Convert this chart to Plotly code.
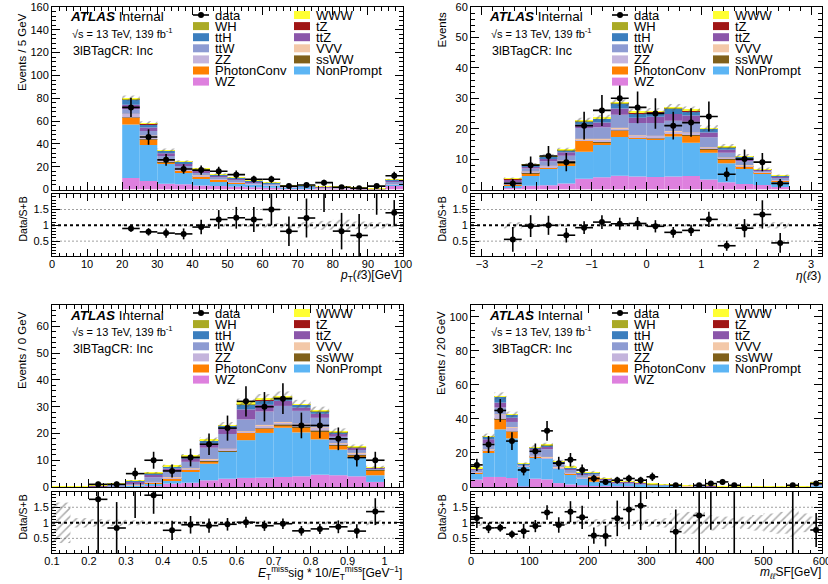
import numpy as np
import plotly.graph_objects as go

W, H = 828, 584
FONT = "Liberation Sans, Arial, Helvetica, sans-serif"

# ---------------- samples (stack order bottom -> top) ----------------
stack_order = ["WZ", "NonPrompt", "PhotonConv", "ssWW", "ZZ", "VVV",
               "ttW", "ttZ", "ttH", "tZ", "WH", "WWW"]
sample_colors = ["#de80de", "#5cb5f4", "#ff8000", "#80601a", "#c4b4dc", "#f3c8a8",
                 "#8d9bd2", "#8b56aa", "#3b7ebe", "#a01515", "#aaaa25", "#ffff33"]

# ---------------- panel 1 : pT(l3) ----------------
p1_edges = [20, 25, 30, 35, 40, 45, 50, 55, 60, 65, 70, 75, 80, 85, 90, 95, 100]
p1_data = [72, 46, 26, 18, 17, 16, 13, 9, 9, 3, 4, 6, 2, 1, 3, 12]
p1_WZ = [10, 7.5, 5, 4.5, 3.5, 3, 2.5, 2, 1.6, 1.2, 1.0, 0.9, 0.8, 0.5, 0.3, 3.5]
p1_NonPrompt = [47, 31.5, 17.5, 10.5, 6.5, 4.2, 2.5, 2, 1.8, 0.6, 0.5, 0.3, 0.4, 0.1, 0.05, 0.5]
p1_PhotonConv = [6, 5, 1.5, 1.5, 1.2, 1.5, 1.2, 0.6, 0.4, 0.2, 0.2, 0.1, 0.1, 0.05, 0.03, 0.4]
p1_ssWW = [0.2, 0.15, 0.15, 0.1, 0.08, 0.05, 0.05, 0.03, 0.02, 0.02, 0.01, 0.01, 0.01, 0, 0, 0.05]
p1_ZZ = [3, 3, 2, 1.5, 1.2, 1, 0.8, 0.6, 0.5, 0.4, 0.3, 0.3, 0.3, 0.2, 0.15, 0.8]
p1_VVV = [0.2, 0.15, 0.15, 0.1, 0.07, 0.05, 0.05, 0.03, 0.02, 0.02, 0.01, 0.01, 0.01, 0.01, 0, 0.05]
p1_ttW = [4, 4, 3, 2.5, 2, 1.5, 1.5, 1, 0.8, 0.6, 0.6, 0.4, 0.4, 0.3, 0.2, 1.3]
p1_ttZ = [4, 3, 2.5, 2, 1.8, 1.2, 1, 0.7, 0.5, 0.4, 0.4, 0.3, 0.3, 0.2, 0.15, 1.2]
p1_ttH = [4.5, 3, 2, 1.5, 1.3, 0.8, 0.7, 0.5, 0.3, 0.2, 0.2, 0.15, 0.1, 0.1, 0.05, 0.6]
p1_tZ = [0.3, 0.2, 0.2, 0.15, 0.1, 0.05, 0.05, 0.04, 0.02, 0.02, 0.01, 0.01, 0.01, 0, 0.01, 0.06]
p1_WH = [0.4, 0.25, 0.25, 0.15, 0.1, 0.07, 0.07, 0.05, 0.02, 0.02, 0.01, 0.01, 0.01, 0.01, 0, 0.07]
p1_WWW = [0.4, 0.25, 0.25, 0.2, 0.15, 0.08, 0.08, 0.05, 0.02, 0.02, 0.01, 0.01, 0.01, 0, 0.01, 0.07]
p1_unc = [0.03, 0.03, 0.04, 0.04, 0.05, 0.05, 0.05, 0.06, 0.07, 0.08, 0.1, 0.14, 0.18, 0.12, 0.1, 0.06]

# ---------------- panel 2 : eta(l3) ----------------
p2_edges = [-2.6, -2.275, -1.95, -1.625, -1.3, -0.975, -0.65, -0.325, 0,
            0.325, 0.65, 0.975, 1.3, 1.625, 1.95, 2.275, 2.6]
p2_data = [2, 8, 11, 9, 21, 26, 30, 27, 25, 21, 22, 24, 5, 10, 9, 2]
p2_WZ = [0.8, 1.2, 1.4, 2.0, 3.5, 4.0, 4.5, 4.3, 4.1, 4.3, 4.4, 3.3, 2.4, 1.8, 1.5, 0.8]
p2_NonPrompt = [0.5, 3.2, 5.5, 6.0, 8.9, 10.6, 12.8, 12.5, 12.4, 13.1, 11.0, 8.8, 6.2, 5.1, 3.8, 1.7]
p2_PhotonConv = [0.2, 1.0, 0.3, 0.5, 3.6, 0.9, 2.0, 0.3, 0.2, 1.0, 2.5, 1.2, 1.4, 0.6, 0.3, 0.6]
p2_ssWW = [0.02, 0.05, 0.05, 0.6, 0.1, 0.1, 0.1, 0.1, 0.1, 0.1, 0.1, 0.1, 0.05, 0.05, 0.02, 0.02]
p2_ZZ = [0.3, 0.4, 0.5, 0.4, 0.5, 1.0, 0.8, 0.5, 0.8, 0.6, 0.6, 0.4, 0.4, 0.4, 0.2, 0.2]
p2_VVV = [0.03, 0.03, 0.03, 0.03, 0.1, 0.1, 0.1, 0.1, 0.1, 0.1, 0.1, 0.1, 0.1, 0.1, 0.02, 0.02]
p2_ttW = [0.8, 1.0, 1.5, 1.6, 3.5, 3.8, 4.3, 4.1, 4.2, 3.4, 3.6, 3.3, 1.5, 1.2, 0.3, 0.5]
p2_ttZ = [0.5, 0.7, 1.0, 1.1, 1.2, 1.5, 2.0, 1.7, 2.0, 2.2, 2.0, 1.5, 1.0, 0.9, 0.3, 0.4]
p2_ttH = [0.3, 0.5, 0.6, 0.7, 1.0, 1.2, 1.6, 1.5, 1.5, 1.8, 1.5, 1.2, 0.8, 0.6, 0.2, 0.2]
p2_tZ = [0.05, 0.04, 0.04, 0.05, 0.1, 0.1, 0.1, 0.1, 0.1, 0.1, 0.1, 0.1, 0.08, 0.08, 0.02, 0.02]
p2_WH = [0.05, 0.04, 0.04, 0.06, 0.1, 0.15, 0.15, 0.15, 0.15, 0.15, 0.15, 0.1, 0.08, 0.08, 0.02, 0.02]
p2_WWW = [0.05, 0.04, 0.04, 0.06, 0.1, 0.15, 0.15, 0.15, 0.15, 0.15, 0.15, 0.1, 0.09, 0.09, 0.02, 0.02]
p2_unc = [0.1, 0.06, 0.05, 0.05, 0.04, 0.04, 0.04, 0.04, 0.04, 0.04, 0.04, 0.05, 0.06, 0.06, 0.08, 0.1]

# ---------------- panel 3 : MET significance ----------------
p3_edges = [0.1, 0.15, 0.2, 0.25, 0.3, 0.35, 0.4, 0.45, 0.5, 0.55, 0.6,
            0.65, 0.7, 0.75, 0.8, 0.85, 0.9, 0.95, 1.0]
p3_data = [0, 0, 1, 1, 5, 10, 6, 11, 16, 22, 32, 30, 33, 23, 23, 18, 11, 10]
p3_WZ = [0, 0, 0.05, 0.1, 0.2, 0.4, 1.25, 1.6, 2.5, 3.1, 3.4, 3.5, 3.75, 4.0, 4.6, 4.4, 4.0, 1.9]
p3_NonPrompt = [0, 0, 0.05, 0.2, 0.3, 0.85, 1.25, 4.0, 6.2, 10.0, 14.1, 16.7, 18.4, 16.4, 13.2, 9.6, 7.0, 2.5]
p3_PhotonConv = [0, 0, 0, 0, 0.05, 0.3, 0.6, 0.9, 1.0, 0.3, 2.75, 1.6, 1.0, 1.9, 3.1, 1.6, 0.6, 1.9]
p3_ssWW = [0, 0, 0, 0, 0, 0.02, 0.05, 0.05, 0.1, 0.1, 0.1, 0.1, 0.15, 0.15, 0.15, 0.1, 0.7, 0.05]
p3_ZZ = [0, 0, 0.02, 0.05, 0.1, 0.3, 0.5, 0.4, 0.6, 0.7, 0.4, 1.2, 0.9, 1.1, 1.2, 0.6, 0.4, 0.2]
p3_VVV = [0, 0, 0, 0, 0.02, 0.03, 0.05, 0.05, 0.08, 0.1, 0.1, 0.1, 0.1, 0.1, 0.1, 0.08, 0.05, 0.03]
p3_ttW = [0, 0.03, 0.25, 0.5, 0.8, 1.75, 2.1, 2.4, 4.2, 5.5, 4.4, 5.0, 6.0, 4.8, 3.5, 2.4, 1.3, 0.4]
p3_ttZ = [0, 0.02, 0.1, 0.2, 0.5, 0.9, 1.1, 1.2, 1.6, 1.9, 3.75, 2.5, 1.9, 1.2, 1.5, 1.2, 0.6, 0.2]
p3_ttH = [0, 0, 0.05, 0.1, 0.3, 0.6, 0.8, 0.9, 1.0, 1.1, 1.9, 1.8, 1.2, 1.0, 0.9, 0.4, 0.2, 0.1]
p3_tZ = [0, 0, 0, 0, 0.02, 0.03, 0.05, 0.05, 0.1, 0.1, 0.1, 0.15, 0.15, 0.1, 0.1, 0.08, 0.05, 0.02]
p3_WH = [0, 0.05, 0.02, 0.02, 0.05, 0.05, 0.07, 0.1, 0.1, 0.1, 0.2, 0.2, 0.2, 0.1, 0.1, 0.1, 0.05, 0.03]
p3_WWW = [0.05, 0.15, 0.03, 0.03, 0.06, 0.07, 0.08, 0.1, 0.12, 0.1, 0.25, 0.25, 0.25, 0.15, 0.15, 0.1, 0.05, 0.02]
p3_unc = [0.65, 0.15, 0.12, 0.1, 0.08, 0.06, 0.06, 0.05, 0.05, 0.05, 0.05, 0.05, 0.05, 0.05, 0.05, 0.06, 0.06, 0.08]

# ---------------- panel 4 : m_ll SF ----------------
p4_edges = [0, 20, 40, 60, 80, 100, 120, 140, 160, 180, 200, 220, 240, 260, 280, 300,
            320, 340, 360, 380, 400, 420, 440, 460, 480, 500, 520, 540, 560, 580, 600]
p4_data = [13, 25, 45, 27, 10, 21, 33, 14, 16, 10, 5, 3, 4, 5, 4, 6, 0, 1, 0, 1,
           2, 3, 1, 0, 0, 0, 0, 1, 0, 2]
p4_WZ = [4.4, 5.9, 5.9, 5.3, 0.3, 4.9, 4.5, 2.3, 1.5, 1.0, 0.6, 0.5, 0.4, 0.4, 0.3,
         0.25, 0.2, 0.2, 0.15, 0.12, 0.12, 0.1, 0.08, 0.07, 0.05, 0.05, 0.05, 0.05, 0.05, 0.4]
p4_NonPrompt = [3.6, 14.4, 28.0, 23.3, 11.8, 12.5, 12.0, 8.3, 6.0, 3.8, 2.5, 2.6, 1.4, 1.5, 1.0,
                0.6, 0.5, 0.5, 0.3, 0.2, 0.2, 0.1, 0.1, 0.1, 0.05, 0.05, 0.05, 0.1, 0.05, 0.5]
p4_PhotonConv = [0.5, 0.9, 5.9, 3.8, 0.1, 0.4, 0.4, 0.4, 0.3, 0.3, 3.0, 0.3, 0.2, 0.1, 0.1,
                 0.1, 0.05, 0.05, 0.05, 0.02, 0.02, 0.02, 0.02, 0.01, 0.01, 0.01, 0.01, 0.01, 0.01, 0.1]
p4_ssWW = [0.05, 0.1, 0.2, 0.15, 0.05, 0.1, 0.1, 0.05, 0.05, 0.05, 0.05, 0.03, 0.03, 0.03, 0.03,
           0.02, 0.02, 0.02, 0.02, 0.02, 0.01, 0.01, 0.01, 0.01, 0.01, 0.01, 0.01, 0.01, 0.01, 0.05]
p4_ZZ = [0.6, 0.8, 2.5, 2.5, 0.3, 0.4, 0.6, 0.6, 0.4, 0.3, 0.3, 0.2, 0.2, 0.2, 0.1,
         0.1, 0.1, 0.1, 0.05, 0.05, 0.05, 0.03, 0.03, 0.03, 0.02, 0.02, 0.02, 0.03, 0.02, 0.2]
p4_VVV = [0.05, 0.1, 0.2, 0.2, 0.05, 0.1, 0.1, 0.1, 0.08, 0.06, 0.05, 0.05, 0.04, 0.04, 0.04,
          0.03, 0.03, 0.03, 0.02, 0.02, 0.02, 0.02, 0.02, 0.02, 0.02, 0.02, 0.01, 0.02, 0.02, 0.1]
p4_ttW = [0.8, 3.5, 4.0, 3.0, 0.6, 3.5, 4.5, 2.0, 1.8, 1.6, 1.2, 0.8, 0.6, 0.6, 0.5,
          0.35, 0.3, 0.25, 0.2, 0.18, 0.15, 0.12, 0.1, 0.08, 0.06, 0.06, 0.05, 0.08, 0.06, 0.5]
p4_ttZ = [0.6, 2.4, 2.9, 2.5, 0.3, 0.9, 1.5, 0.8, 1.0, 0.8, 0.5, 0.4, 0.4, 0.4, 0.3,
          0.2, 0.18, 0.15, 0.12, 0.1, 0.1, 0.08, 0.05, 0.05, 0.04, 0.04, 0.03, 0.05, 0.04, 0.5]
p4_ttH = [0.4, 1.5, 3.5, 1.6, 0.1, 0.5, 0.8, 0.4, 0.5, 0.45, 0.2, 0.25, 0.15, 0.15, 0.15,
          0.1, 0.08, 0.06, 0.05, 0.05, 0.04, 0.03, 0.02, 0.02, 0.02, 0.02, 0.02, 0.03, 0.02, 0.15]
p4_tZ = [0.05, 0.1, 0.1, 0.1, 0.02, 0.05, 0.1, 0.02, 0.04, 0.04, 0.03, 0.02, 0.02, 0.02, 0.02,
         0.01, 0.01, 0.01, 0.01, 0.01, 0.01, 0.01, 0.01, 0.01, 0.01, 0.01, 0.01, 0.01, 0.01, 0.02]
p4_WH = [0.1, 0.1, 0.2, 0.1, 0.05, 0.1, 0.1, 0.03, 0.05, 0.05, 0.03, 0.03, 0.03, 0.03, 0.03,
         0.02, 0.02, 0.02, 0.02, 0.02, 0.02, 0.02, 0.01, 0.01, 0.01, 0.01, 0.01, 0.01, 0.01, 0.03]
p4_WWW = [0.1, 0.1, 0.1, 0.1, 0.03, 0.05, 0.1, 0.05, 0.08, 0.05, 0.03, 0.02, 0.03, 0.03, 0.02,
          0.02, 0.01, 0.01, 0.01, 0.02, 0.01, 0.01, 0.01, 0.01, 0.01, 0.01, 0.01, 0.01, 0.01, 0.05]
p4_unc = [0.1, 0.05, 0.04, 0.04, 0.06, 0.05, 0.05, 0.06, 0.07, 0.08, 0.12, 0.12, 0.13, 0.1, 0.1,
          0.12, 0.15, 0.3, 0.35, 0.35, 0.25, 0.2, 0.15, 0.2, 0.25, 0.3, 0.35, 0.45, 0.3, 0.2]

# ---------------- panel settings (text & axes) ----------------
p1_ytitle = "Events / 5 GeV"
p2_ytitle = "Events"
p3_ytitle = "Events / 0 GeV"
p4_ytitle = "Events / 20 GeV"
p1_xtitle = "<i>p</i><sub>T</sub>(<i>ℓ</i>3)[GeV]"
p2_xtitle = "<i>η</i>(<i>ℓ</i>3)"
p3_xtitle = "<i>E</i><sub>T</sub><sup>miss</sup>sig * 10/<i>E</i><sub>T</sub><sup>miss</sup>[GeV<sup>−1</sup>]"
p4_xtitle = "<i>m</i><sub><i>ℓℓ</i></sub>SF[GeV]"

panels = [
    dict(edges=p1_edges, data=p1_data, unc=p1_unc,
         comps=[p1_WZ, p1_NonPrompt, p1_PhotonConv, p1_ssWW, p1_ZZ, p1_VVV,
                p1_ttW, p1_ttZ, p1_ttH, p1_tZ, p1_WH, p1_WWW],
         xrange=[0, 100], yrange=[0, 160], xd=10, xmd=2, yd=20, ymd=4, x0=0,
         ytitle=p1_ytitle, xtitle=p1_xtitle, frame=(52, 403, 7, 189.5, 194, 256)),
    dict(edges=p2_edges, data=p2_data, unc=p2_unc,
         comps=[p2_WZ, p2_NonPrompt, p2_PhotonConv, p2_ssWW, p2_ZZ, p2_VVV,
                p2_ttW, p2_ttZ, p2_ttH, p2_tZ, p2_WH, p2_WWW],
         xrange=[-3.2, 3.2], yrange=[0, 60], xd=1, xmd=0.2, yd=10, ymd=2, x0=0,
         ytitle=p2_ytitle, xtitle=p2_xtitle, frame=(471, 822, 7, 189.5, 194, 256)),
    dict(edges=p3_edges, data=p3_data, unc=p3_unc,
         comps=[p3_WZ, p3_NonPrompt, p3_PhotonConv, p3_ssWW, p3_ZZ, p3_VVV,
                p3_ttW, p3_ttZ, p3_ttH, p3_tZ, p3_WH, p3_WWW],
         xrange=[0.1, 1.05], yrange=[0, 68], xd=0.1, xmd=0.02, yd=10, ymd=2, x0=0.1,
         ytitle=p3_ytitle, xtitle=p3_xtitle, frame=(52, 403, 305, 487, 492, 553)),
    dict(edges=p4_edges, data=p4_data, unc=p4_unc,
         comps=[p4_WZ, p4_NonPrompt, p4_PhotonConv, p4_ssWW, p4_ZZ, p4_VVV,
                p4_ttW, p4_ttZ, p4_ttH, p4_tZ, p4_WH, p4_WWW],
         xrange=[0, 600], yrange=[0, 107], xd=100, xmd=20, yd=20, ymd=4, x0=0,
         ytitle=p4_ytitle, xtitle=p4_xtitle, frame=(471, 822, 305, 487, 492, 553)),
]


def px(x):
    return x / W


def py(y):
    return 1 - y / H


fig = go.Figure()
layout = dict(width=W, height=H, margin=dict(l=0, r=0, t=0, b=0, autoexpand=False),
              paper_bgcolor="white", plot_bgcolor="white", showlegend=False,
              barmode="overlay", font=dict(family=FONT, color="black"))
shapes = []
annotations = []

hatch = dict(shape="/", fgcolor="#555555", bgcolor="rgba(0,0,0,0)", size=6, solidity=0.25)


def axis_common(rng, dtick, mdtick, tick0, ticklen, showlabels, domain, anchor, standoff=0):
    return dict(range=rng, domain=domain, anchor=anchor, showline=True, linecolor="black",
                linewidth=1, mirror="allticks", ticks="inside", ticklen=ticklen,
                tickwidth=1, tickcolor="black", showgrid=False, zeroline=False,
                automargin=False, ticklabelstandoff=standoff, ticklabeloverflow="allow",
                tickmode="linear", dtick=dtick, tick0=tick0, showticklabels=showlabels,
                tickfont=dict(family=FONT, size=11, color="black"),
                minor=dict(ticks="inside", ticklen=ticklen / 2, dtick=mdtick, tick0=tick0,
                           tickcolor="black", showgrid=False))


for i, P in enumerate(panels):
    nm, nr = 2 * i + 1, 2 * i + 2
    xm = "x" if nm == 1 else f"x{nm}"
    ym = "y" if nm == 1 else f"y{nm}"
    xr, yr = f"x{nr}", f"y{nr}"
    L, R, T, B, RT, RB = P["frame"]

    edges = np.array(P["edges"], dtype=float)
    centers = 0.5 * (edges[1:] + edges[:-1])
    widths = edges[1:] - edges[:-1]
    comps = [np.array(c, dtype=float) for c in P["comps"]]
    total = np.sum(comps, axis=0)
    unc = np.array(P["unc"], dtype=float)
    data = np.array(P["data"], dtype=float)

    # stacked histogram
    base = np.zeros_like(total)
    for name, col, vals in zip(stack_order, sample_colors, comps):
        fig.add_trace(go.Bar(x=centers, y=vals, base=base.copy(), width=widths,
                             marker=dict(color=col, line=dict(width=0)), name=name,
                             xaxis=xm, yaxis=ym, hoverinfo="skip"))
        base = base + vals
    # uncertainty hatch
    fig.add_trace(go.Bar(x=centers, y=2 * unc * total, base=total * (1 - unc), width=widths,
                         marker=dict(color="rgba(0,0,0,0)", line=dict(width=0), pattern=hatch),
                         xaxis=xm, yaxis=ym, hoverinfo="skip"))
    # data
    m = data > 0
    fig.add_trace(go.Scatter(x=centers[m], y=data[m], mode="markers",
                             marker=dict(color="black", size=6),
                             error_y=dict(type="data", array=np.sqrt(data[m]), color="black",
                                          thickness=1.6, width=0),
                             error_x=dict(type="data", array=widths[m] / 2, color="black",
                                          thickness=1.6, width=0),
                             xaxis=xm, yaxis=ym, hoverinfo="skip"))

    # ratio
    fig.add_trace(go.Bar(x=centers, y=2 * unc, base=1 - unc, width=widths,
                         marker=dict(color="rgba(0,0,0,0)", line=dict(width=0), pattern=hatch),
                         xaxis=xr, yaxis=yr, hoverinfo="skip"))
    fig.add_trace(go.Scatter(x=P["xrange"], y=[1, 1], mode="lines",
                             line=dict(color="black", width=2, dash="dot"),
                             xaxis=xr, yaxis=yr, hoverinfo="skip"))
    ratio = data[m] / total[m]
    rerr = np.sqrt(data[m]) / total[m]
    fig.add_trace(go.Scatter(x=centers[m], y=ratio, mode="markers",
                             marker=dict(color="black", size=6),
                             error_y=dict(type="data", array=rerr, color="black",
                                          thickness=1.6, width=0),
                             error_x=dict(type="data", array=widths[m] / 2, color="black",
                                          thickness=1.6, width=0),
                             xaxis=xr, yaxis=yr, hoverinfo="skip"))
    xdom_ref = f"x{nr} domain"
    for lvl in (0.5, 1.5):
        shapes.append(dict(type="line", xref=xdom_ref, yref=yr, x0=0, x1=1, y0=lvl, y1=lvl,
                           line=dict(color="#a0a0a0", width=1, dash="2px,2px"), layer="below"))

    xdom = [px(L), px(R)]
    layout["xaxis" if nm == 1 else f"xaxis{nm}"] = axis_common(
        P["xrange"], P["xd"], P["xmd"], P["x0"], 8, False, xdom, ym)
    layout[f"yaxis{'' if nm == 1 else nm}"] = axis_common(
        P["yrange"], P["yd"], P["ymd"], 0, 8, True, [py(B), py(T)], xm)
    layout[f"xaxis{nr}"] = axis_common(
        P["xrange"], P["xd"], P["xmd"], P["x0"], 7, True, xdom, yr, standoff=-2)
    layout[f"yaxis{nr}"] = axis_common(
        [0.03, 1.99], 0.5, 0.1, 0, 8, True, [py(RB), py(RT)], xr)

    # ----- texts -----
    annotations.append(dict(x=px(L + 16), y=py(T + 10), xref="paper", yref="paper",
                            text="<b><i>ATLAS</i></b> Internal", showarrow=False,
                            xanchor="left", yanchor="middle",
                            font=dict(family=FONT, size=13.5, color="black")))
    annotations.append(dict(x=px(L + 18), y=py(T + 26), xref="paper", yref="paper",
                            text="√s = 13 TeV, 139 fb<sup>-1</sup>", showarrow=False,
                            xanchor="left", yanchor="middle",
                            font=dict(family=FONT, size=11, color="black")))
    annotations.append(dict(x=px(L + 19), y=py(T + 44), xref="paper", yref="paper",
                            text="3lBTagCR: Inc", showarrow=False,
                            xanchor="left", yanchor="middle",
                            font=dict(family=FONT, size=12.5, color="black")))
    annotations.append(dict(x=px(L - 30), y=py(T + 4), xref="paper", yref="paper",
                            text=P["ytitle"], showarrow=False, textangle=-90,
                            xanchor="center", yanchor="top",
                            font=dict(family=FONT, size=11.5, color="black")))
    annotations.append(dict(x=px(L - 30), y=py(RT + 1), xref="paper", yref="paper",
                            text="Data/S+B", showarrow=False, textangle=-90,
                            xanchor="center", yanchor="top",
                            font=dict(family=FONT, size=10.5, color="black")))
    annotations.append(dict(x=px(R + 1), y=py(RB + 20), xref="paper", yref="paper",
                            text=P["xtitle"], showarrow=False,
                            xanchor="right", yanchor="middle",
                            font=dict(family=FONT, size=12, color="black")))

    # ----- legend (two columns, row-major: data then stack top -> bottom) -----
    entries = ["data"] + list(reversed(stack_order))
    colmap = dict(zip(stack_order, sample_colors))
    for k, name in enumerate(entries):
        r, c = divmod(k, 2)
        bx = L + (141 if c == 0 else 242)
        ry = T + 8 + 11.1 * r
        if name == "data":
            shapes.append(dict(type="line", xref="paper", yref="paper",
                               x0=px(bx), x1=px(bx + 16), y0=py(ry), y1=py(ry),
                               line=dict(color="black", width=1.6)))
            shapes.append(dict(type="circle", xref="paper", yref="paper",
                               x0=px(bx + 5), x1=px(bx + 11), y0=py(ry + 3), y1=py(ry - 3),
                               fillcolor="black", line=dict(color="black", width=0)))
        else:
            shapes.append(dict(type="rect", xref="paper", yref="paper",
                               x0=px(bx), x1=px(bx + 16), y0=py(ry + 4), y1=py(ry - 4),
                               fillcolor=colmap[name], line=dict(width=0)))
        annotations.append(dict(x=px(bx + 20), y=py(ry), xref="paper", yref="paper",
                                text=name, showarrow=False, xanchor="left", yanchor="middle",
                                font=dict(family=FONT, size=13, color="black")))

layout["shapes"] = shapes
layout["annotations"] = annotations
fig.update_layout(**layout)
fig.write_html("out.html")
